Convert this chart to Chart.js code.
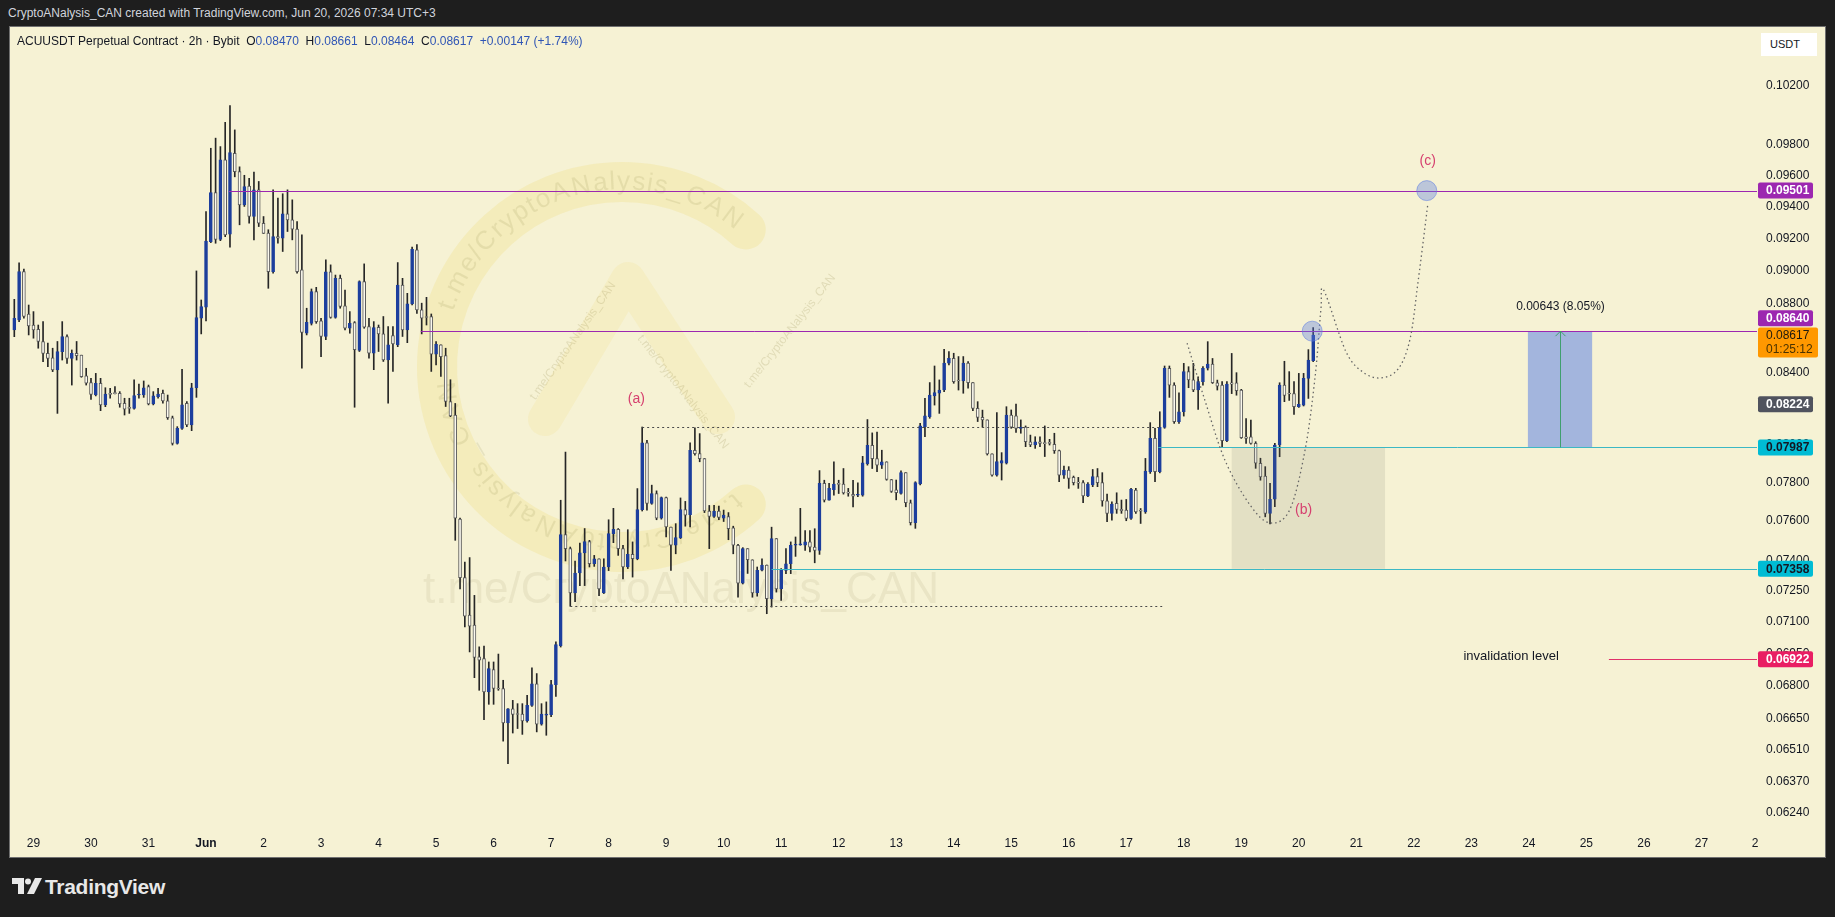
<!DOCTYPE html>
<html>
<head>
<meta charset="utf-8">
<script src="https://cdn.jsdelivr.net/npm/chart.js@4.4.1/dist/chart.umd.min.js"></script>
<style>
html, body { margin: 0; padding: 0; background: #1e1e1e; width: 1835px; height: 917px; overflow: hidden; font-family: "Liberation Sans", Arial, sans-serif; }
#credit { position: absolute; left: 8px; top: 6px; color: #d1d4dc; font-size: 12px; }
#panel { position: absolute; left: 10px; top: 27px; width: 1815px; height: 830px; background: #f6f2d4; box-shadow: 0 0 0 1px #707070; }
#panel canvas { position: absolute; left: 0; top: 0; }
#legend { position: absolute; left: 7px; top: 7px; font-size: 12px; color: #131722; white-space: pre; }
#legend span { color: #2f55b5; }
#unit { position: absolute; left: 1751px; top: 6px; width: 56px; height: 23px; background: #fff; font-size: 11px; color: #131722; line-height: 23px; padding-left: 9px; box-sizing: border-box; }
#logo { position: absolute; left: 12px; top: 875px; color: #e8e8e8; font-size: 21px; font-weight: bold; }
#logo svg { position: absolute; left: 0; top: 3px; }
#logo div { position: absolute; left: 33px; top: 0; letter-spacing: -0.3px; }
</style>
</head>
<body>
<div id="credit">CryptoANalysis_CAN created with TradingView.com, Jun 20, 2026 07:34 UTC+3</div>
<div id="panel">
  <canvas id="chart" width="1815" height="830"></canvas>
  <div id="legend">ACUUSDT Perpetual Contract · 2h · Bybit  O<span>0.08470</span>  H<span>0.08661</span>  L<span>0.08464</span>  C<span>0.08617</span>  <span>+0.00147 (+1.74%)</span></div>
  <div id="unit">USDT</div>
</div>
<div id="logo">
  <svg width="30" height="17" viewBox="0 0 30 17"><path d="M0 0H12V16H6V6H0Z" fill="#e8e8e8"/><circle cx="16" cy="3.5" r="3" fill="#e8e8e8"/><path d="M23 0H30L22 16H15Z" fill="#e8e8e8"/></svg>
  <div>TradingView</div>
</div>
<script>
// ACUUSDT 2h candles, 29 May .. 20 Jun (one row = one day, 12 bars)
const opens = [
  0.08647,0.08706,0.08995,0.08741,0.08676,0.08651,0.08580,0.08511,0.08486,0.08416,0.08521,0.08608,
  0.08483,0.08511,0.08501,0.08383,0.08345,0.08275,0.08341,0.08220,0.08284,0.08284,0.08284,0.08229,
  0.08203,0.08201,0.08275,0.08275,0.08322,0.08225,0.08266,0.08284,0.08242,0.08149,0.08009,0.08091,
  0.08229,0.08109,0.08316,0.08716,0.08781,0.09179,0.09488,0.09193,0.09700,0.09226,0.09744,0.09624,
  0.09410,0.09530,0.09336,0.09506,0.09294,0.09232,0.08994,0.09211,0.09201,0.09353,0.09315,0.09257,
  0.09006,0.08628,0.08686,0.08874,0.08700,0.08609,0.08994,0.08720,0.08954,0.08789,0.08657,0.08690,
  0.08528,0.08934,0.08667,0.08512,0.08663,0.08624,0.08474,0.08615,0.08560,0.08914,0.08647,0.08801,
  0.09128,0.08765,0.08722,0.08726,0.08506,0.08560,0.08499,0.08239,0.08163,0.07609,0.07314,0.07131,
  0.07083,0.06933,0.06925,0.06770,0.06873,0.06786,0.06786,0.06630,0.06694,0.06670,0.06670,0.06639,
  0.06709,0.06808,0.06624,0.06665,0.06667,0.06804,0.06985,0.07530,0.07459,0.07239,0.07337,0.07438,
  0.07495,0.07383,0.07408,0.07239,0.07367,0.07535,0.07557,0.07459,0.07367,0.07430,0.07408,0.07658,
  0.08012,0.07690,0.07742,0.07614,0.07721,0.07569,0.07476,0.07515,0.07658,0.07632,0.07972,0.07954,
  0.07927,0.07651,0.07623,0.07651,0.07614,0.07622,0.07565,0.07476,0.07287,0.07459,0.07403,0.07239,
  0.07351,0.07377,0.07211,0.07510,0.07259,0.07350,0.07383,0.07476,0.07478,0.07476,0.07493,0.07467,
  0.07450,0.07795,0.07707,0.07762,0.07791,0.07791,0.07745,0.07738,0.07733,0.07733,0.07900,0.07999,
  0.07927,0.07892,0.07910,0.07816,0.07761,0.07743,0.07852,0.07694,0.07591,0.07792,0.08100,0.08155,
  0.08270,0.08285,0.08303,0.08455,0.08483,0.08356,0.08354,0.08455,0.08345,0.08201,0.08151,0.08137,
  0.07952,0.07839,0.07902,0.07902,0.08164,0.08159,0.08091,0.08097,0.08018,0.08000,0.08018,0.08010,
  0.08010,0.08004,0.07970,0.07839,0.07866,0.07827,0.07799,0.07799,0.07729,0.07787,0.07831,0.07799,
  0.07704,0.07639,0.07691,0.07660,0.07656,0.07613,0.07760,0.07652,0.07647,0.07857,0.08036,0.07857,
  0.08096,0.08426,0.08331,0.08127,0.08182,0.08407,0.08360,0.08303,0.08350,0.08426,0.08450,0.08344,
  0.08331,0.08023,0.08344,0.08344,0.08303,0.08045,0.08045,0.08009,0.07902,0.07834,0.07639,0.07712,
  0.08000,0.08331,0.08283,0.08283,0.08210,0.08219,0.08369,0.08470
];
const highs = [
  0.08828,0.09049,0.09011,0.08794,0.08755,0.08676,0.08696,0.08570,0.08541,0.08580,0.08696,0.08618,
  0.08531,0.08580,0.08501,0.08426,0.08369,0.08397,0.08369,0.08316,0.08312,0.08322,0.08294,0.08257,
  0.08257,0.08360,0.08337,0.08354,0.08331,0.08294,0.08312,0.08303,0.08275,0.08158,0.08100,0.08420,
  0.08238,0.08341,0.08999,0.08824,0.09367,0.09777,0.09844,0.09788,0.09950,0.10063,0.09899,0.09655,
  0.09600,0.09580,0.09620,0.09560,0.09336,0.09253,0.09506,0.09453,0.09481,0.09506,0.09442,0.09304,
  0.09221,0.08775,0.08890,0.08900,0.08716,0.09067,0.09036,0.08974,0.08974,0.08884,0.08755,0.08696,
  0.08939,0.09042,0.08716,0.08696,0.08676,0.08726,0.08667,0.08667,0.09050,0.08954,0.08864,0.09145,
  0.09160,0.08805,0.08840,0.08741,0.08580,0.08560,0.08541,0.08361,0.08228,0.07614,0.07392,0.07414,
  0.07227,0.06980,0.06983,0.06909,0.06909,0.06946,0.06824,0.06695,0.06732,0.06717,0.06717,0.06755,
  0.06882,0.06855,0.06717,0.06725,0.06824,0.07004,0.07707,0.07962,0.07467,0.07397,0.07487,0.07561,
  0.07501,0.07425,0.07408,0.07408,0.07606,0.07665,0.07561,0.07476,0.07555,0.07493,0.07768,0.08098,
  0.08026,0.07786,0.07756,0.07724,0.07724,0.07569,0.07586,0.07719,0.07701,0.08012,0.08094,0.08062,
  0.07927,0.07680,0.07680,0.07677,0.07656,0.07643,0.07573,0.07481,0.07464,0.07459,0.07403,0.07367,
  0.07408,0.07377,0.07568,0.07510,0.07359,0.07459,0.07493,0.07518,0.07665,0.07551,0.07551,0.07560,
  0.07863,0.07812,0.07795,0.07910,0.07812,0.07874,0.07769,0.07812,0.07798,0.07939,0.08139,0.08066,
  0.08071,0.07972,0.07910,0.07816,0.07813,0.07862,0.07852,0.07708,0.07804,0.08118,0.08257,0.08345,
  0.08439,0.08360,0.08535,0.08522,0.08512,0.08493,0.08493,0.08464,0.08345,0.08238,0.08191,0.08137,
  0.07952,0.08177,0.07959,0.08210,0.08192,0.08225,0.08137,0.08104,0.08054,0.08045,0.08045,0.08104,
  0.08031,0.08064,0.07973,0.07887,0.07884,0.07834,0.07827,0.07810,0.07799,0.07869,0.07874,0.07852,
  0.07739,0.07699,0.07746,0.07708,0.07711,0.07769,0.07769,0.07664,0.07928,0.08122,0.08091,0.08182,
  0.08439,0.08439,0.08344,0.08288,0.08454,0.08435,0.08454,0.08378,0.08435,0.08579,0.08482,0.08359,
  0.08350,0.08350,0.08511,0.08401,0.08307,0.08145,0.08136,0.08018,0.07929,0.07884,0.07795,0.08009,
  0.08344,0.08466,0.08407,0.08350,0.08397,0.08397,0.08533,0.08661
];
const lows = [
  0.08608,0.08696,0.08716,0.08618,0.08599,0.08541,0.08464,0.08435,0.08407,0.08173,0.08473,0.08454,
  0.08331,0.08473,0.08375,0.08331,0.08251,0.08270,0.08188,0.08210,0.08257,0.08281,0.08207,0.08164,
  0.08173,0.08196,0.08257,0.08262,0.08220,0.08220,0.08257,0.08229,0.08140,0.08000,0.08005,0.08085,
  0.08100,0.08078,0.08262,0.08624,0.08700,0.09173,0.09169,0.09185,0.09210,0.09144,0.09590,0.09284,
  0.09400,0.09294,0.09190,0.09273,0.09230,0.08894,0.08985,0.09170,0.09118,0.09242,0.09190,0.08985,
  0.08427,0.08618,0.08676,0.08686,0.08493,0.08590,0.08716,0.08716,0.08775,0.08647,0.08628,0.08207,
  0.08522,0.08657,0.08484,0.08418,0.08522,0.08465,0.08229,0.08408,0.08550,0.08609,0.08573,0.08795,
  0.08745,0.08624,0.08676,0.08408,0.08445,0.08380,0.08211,0.08155,0.07501,0.07259,0.07075,0.06956,
  0.06836,0.06778,0.06645,0.06714,0.06714,0.06778,0.06549,0.06450,0.06585,0.06605,0.06579,0.06634,
  0.06705,0.06590,0.06620,0.06575,0.06658,0.06750,0.06979,0.07397,0.07174,0.07196,0.07275,0.07275,
  0.07367,0.07370,0.07226,0.07236,0.07349,0.07489,0.07425,0.07308,0.07359,0.07317,0.07403,0.07651,
  0.07656,0.07686,0.07606,0.07609,0.07518,0.07350,0.07433,0.07510,0.07573,0.07569,0.07945,0.07910,
  0.07643,0.07459,0.07618,0.07606,0.07597,0.07504,0.07433,0.07218,0.07283,0.07335,0.07218,0.07223,
  0.07348,0.07138,0.07170,0.07243,0.07203,0.07334,0.07334,0.07420,0.07476,0.07450,0.07442,0.07388,
  0.07430,0.07698,0.07707,0.07733,0.07742,0.07739,0.07728,0.07672,0.07725,0.07728,0.07892,0.07874,
  0.07857,0.07874,0.07812,0.07748,0.07709,0.07739,0.07673,0.07579,0.07562,0.07787,0.08045,0.08146,
  0.08219,0.08173,0.08294,0.08445,0.08341,0.08303,0.08285,0.08313,0.08188,0.08128,0.08097,0.07946,
  0.07834,0.07834,0.07813,0.07898,0.08091,0.08068,0.08064,0.07991,0.07991,0.07982,0.07991,0.07938,
  0.08000,0.07955,0.07804,0.07821,0.07769,0.07787,0.07769,0.07694,0.07726,0.07778,0.07778,0.07676,
  0.07596,0.07604,0.07639,0.07639,0.07601,0.07608,0.07639,0.07587,0.07639,0.07848,0.07804,0.07851,
  0.08091,0.08262,0.08118,0.08118,0.08158,0.08316,0.08294,0.08195,0.08331,0.08416,0.08340,0.08303,
  0.07987,0.08018,0.08283,0.08274,0.08036,0.08009,0.08005,0.07875,0.07812,0.07621,0.07584,0.07674,
  0.07937,0.08238,0.08245,0.08167,0.08206,0.08214,0.08256,0.08464
];
const closes = [
  0.08716,0.08995,0.08726,0.08670,0.08647,0.08580,0.08511,0.08483,0.08416,0.08521,0.08608,0.08483,
  0.08511,0.08498,0.08379,0.08341,0.08279,0.08341,0.08220,0.08281,0.08279,0.08283,0.08225,0.08196,
  0.08201,0.08272,0.08276,0.08316,0.08225,0.08270,0.08281,0.08242,0.08149,0.08009,0.08091,0.08220,
  0.08109,0.08316,0.08720,0.08785,0.09183,0.09488,0.09193,0.09700,0.09220,0.09749,0.09624,0.09410,
  0.09527,0.09336,0.09506,0.09294,0.09230,0.08994,0.09211,0.09201,0.09353,0.09315,0.09257,0.08994,
  0.08632,0.08692,0.08874,0.08696,0.08609,0.08994,0.08720,0.08954,0.08785,0.08657,0.08686,0.08532,
  0.08934,0.08663,0.08512,0.08661,0.08624,0.08474,0.08560,0.08566,0.08914,0.08647,0.08801,0.09132,
  0.08765,0.08716,0.08720,0.08506,0.08564,0.08493,0.08239,0.08159,0.07614,0.07314,0.07126,0.07078,
  0.06930,0.06917,0.06770,0.06878,0.06786,0.06784,0.06630,0.06694,0.06668,0.06668,0.06639,0.06709,
  0.06808,0.06624,0.06670,0.06667,0.06804,0.06991,0.07530,0.07459,0.07239,0.07337,0.07438,0.07495,
  0.07383,0.07408,0.07259,0.07367,0.07535,0.07557,0.07459,0.07367,0.07430,0.07408,0.07658,0.08012,
  0.07690,0.07742,0.07614,0.07721,0.07569,0.07476,0.07515,0.07658,0.07629,0.07972,0.07954,0.07927,
  0.07651,0.07623,0.07651,0.07618,0.07630,0.07560,0.07476,0.07287,0.07459,0.07403,0.07239,0.07351,
  0.07377,0.07211,0.07510,0.07259,0.07350,0.07383,0.07476,0.07478,0.07480,0.07493,0.07467,0.07450,
  0.07795,0.07707,0.07769,0.07791,0.07790,0.07745,0.07744,0.07728,0.07734,0.07904,0.07999,0.07927,
  0.07892,0.07910,0.07816,0.07753,0.07747,0.07852,0.07694,0.07591,0.07799,0.08104,0.08159,0.08275,
  0.08289,0.08303,0.08455,0.08483,0.08350,0.08354,0.08455,0.08345,0.08201,0.08151,0.08137,0.07952,
  0.07839,0.07911,0.07916,0.08164,0.08097,0.08091,0.08097,0.08018,0.08000,0.08018,0.08009,0.08008,
  0.08009,0.07970,0.07839,0.07866,0.07821,0.07799,0.07797,0.07729,0.07792,0.07831,0.07799,0.07704,
  0.07639,0.07687,0.07659,0.07653,0.07613,0.07764,0.07647,0.07650,0.07861,0.08036,0.07857,0.08096,
  0.08426,0.08331,0.08127,0.08182,0.08407,0.08360,0.08303,0.08350,0.08426,0.08450,0.08344,0.08325,
  0.08023,0.08336,0.08336,0.08299,0.08040,0.08036,0.08009,0.07902,0.07830,0.07639,0.07712,0.08000,
  0.08331,0.08273,0.08281,0.08210,0.08223,0.08369,0.08473,0.08617
];

// time axis: one label per day, first one (29 May) sits on bar 4, 12 bars per day
const dayLabels = ['29','30','31','Jun','2','3','4','5','6','7','8','9','10','11','12','13','14','15',
  '16','17','18','19','20','21','22','23','24','25','26','27','2'];
const firstDayBar = 4, barsPerDay = 12;
const xMin = -0.48, xMax = 363.6;

// price axis (log scale)
const priceTicks = [0.102, 0.098, 0.096, 0.094, 0.092, 0.090, 0.088, 0.086, 0.084, 0.082, 0.080, 0.078,
  0.076, 0.074, 0.0725, 0.071, 0.0695, 0.068, 0.0665, 0.0651, 0.0637, 0.0624];
const yMin = 0.061714, yMax = 0.10612;

// drawings on the chart (bar index, price)
const levelLines = [
  { price: 0.09501, from: 44.8, color: '#9c27b0' },
  { price: 0.08640, from: 84.8, color: '#9c27b0' },
  { price: 0.07987, from: 238.7, color: '#3cb8c4' },
  { price: 0.07358, from: 158.0, color: '#3cb8c4' },
  { price: 0.06922, from: 332.7, color: '#e0306a' }
];
const dottedLines = [
  { price: 0.08098, from: 131, to: 239 },
  { price: 0.07174, from: 116, to: 239.5 }
];
const zoneBox = { from: 254, to: 286, top: 0.07987, bottom: 0.07358 };
const rangeBox = { from: 315.8, to: 329.2, top: 0.08640, bottom: 0.07987, text: '0.00643 (8.05%)' };
const markers = [ { x: 294.7, price: 0.09501 }, { x: 270.8, price: 0.08640 } ];
const pathX = [244.7, 248.4, 252.6, 257.8, 262.0, 266.1, 269.3, 271.4, 272.6, 273.2, 277.8, 281.4, 285.1, 288.7, 291.2, 292.9, 294.9];
const pathP = [0.08570, 0.08246, 0.07918, 0.07683, 0.07590, 0.07657, 0.07972, 0.08377, 0.08764, 0.08883, 0.08524, 0.08404, 0.08371, 0.08421, 0.08593, 0.08937, 0.09410];
const waveLabels = [
  { text: '(a)', x: 129.8, price: 0.08252 },
  { text: '(b)', x: 269.0, price: 0.07657 },
  { text: '(c)', x: 294.9, price: 0.09690 }
];
const axisBoxes = [
  { price: 0.09501, bg: '#9c27b0', fg: '#ffffff', shift: 0 },
  { price: 0.08640, bg: '#9c27b0', fg: '#ffffff', shift: -13 },
  { price: 0.08224, bg: '#50535e', fg: '#ffffff', shift: 0 },
  { price: 0.07987, bg: '#00bcd4', fg: '#131722', shift: 0 },
  { price: 0.07358, bg: '#00bcd4', fg: '#131722', shift: 0 },
  { price: 0.06922, bg: '#e91e63', fg: '#ffffff', shift: 0 }
];
const lastPrice = 0.08617, countdown = '01:25:12';

const FONT = '"Liberation Sans", Arial, sans-serif';
const UP = '#1d3f9e', DOWN_FILL = '#fbf9ee', DOWN_LINE = '#5a5a5a';

const bodies = opens.map((o, i) => ({ x: i, y: [o, closes[i]] }));
const wicks = lows.map((l, i) => ({ x: i, y: [l, highs[i]] }));
const isUp = opens.map((o, i) => closes[i] >= o);

function arcText(ctx, text, cx, cy, r, a0, a1) {
  const widths = [...text].map(ch => ctx.measureText(ch).width);
  const total = widths.reduce((s, w) => s + w, 0);
  let acc = 0;
  [...text].forEach((ch, i) => {
    const t = (acc + widths[i] / 2) / total;
    acc += widths[i];
    const ang = (a0 + (a1 - a0) * t) * Math.PI / 180;
    ctx.save();
    ctx.translate(cx + r * Math.cos(ang), cy + r * Math.sin(ang));
    ctx.rotate(ang + Math.PI / 2);
    ctx.fillText(ch, 0, 0);
    ctx.restore();
  });
}

function smoothPath(ctx, pts) {
  ctx.moveTo(pts[0][0], pts[0][1]);
  for (let i = 0; i < pts.length - 1; i++) {
    const p0 = pts[i - 1] || pts[i], p1 = pts[i], p2 = pts[i + 1], p3 = pts[i + 2] || p2;
    ctx.bezierCurveTo(p1[0] + (p2[0] - p0[0]) / 6, p1[1] + (p2[1] - p0[1]) / 6,
      p2[0] - (p3[0] - p1[0]) / 6, p2[1] - (p3[1] - p1[1]) / 6, p2[0], p2[1]);
  }
}

// keep the plot edge-to-edge like TradingView: no label padding around the axes
function noPad(s) { s.paddingLeft = 0; s.paddingRight = 0; s.paddingTop = 0; s.paddingBottom = 0; }

const overlay = {
  id: 'overlay',
  beforeDatasetsDraw(chart) {
    const ctx = chart.ctx, a = chart.chartArea;
    ctx.save();
    ctx.beginPath(); ctx.rect(a.left, a.top, a.right - a.left, a.bottom - a.top); ctx.clip();
    // channel watermark
    const cx = 612, cy = 340, r = 185;
    ctx.strokeStyle = 'rgba(240,218,110,0.24)';
    ctx.lineWidth = 40; ctx.lineCap = 'round'; ctx.lineJoin = 'round';
    ctx.beginPath(); ctx.arc(cx, cy, r, 48 * Math.PI / 180, 312 * Math.PI / 180); ctx.stroke();
    ctx.strokeStyle = 'rgba(240,218,110,0.16)';
    ctx.lineWidth = 34;
    ctx.beginPath(); ctx.moveTo(535, 392); ctx.lineTo(618, 252); ctx.lineTo(708, 390); ctx.stroke();
    ctx.fillStyle = 'rgba(150,140,80,0.16)';
    ctx.textAlign = 'center'; ctx.textBaseline = 'middle';
    ctx.font = '26px ' + FONT;
    arcText(ctx, 't.me/CryptoANalysis_CAN', cx, cy, r, 198, 310);
    arcText(ctx, 't.me/CryptoANalysis_CAN', cx, cy, r - 10, 48, 176);
    ctx.font = '12px ' + FONT;
    ctx.fillStyle = 'rgba(150,140,80,0.22)';
    [[563, 314, -55], [673, 365, 52], [780, 304, -52]].forEach(([x, y, rot]) => {
      ctx.save(); ctx.translate(x, y); ctx.rotate(rot * Math.PI / 180);
      ctx.fillText('t.me/CryptoANalysis_CAN', 0, 0); ctx.restore();
    });
    ctx.textAlign = 'left'; ctx.textBaseline = 'alphabetic';
    ctx.font = '44px ' + FONT;
    ctx.fillStyle = 'rgba(140,130,80,0.11)';
    ctx.fillText('t.me/CryptoANalysis_CAN', 413, 576);
    ctx.restore();
  },
  afterDatasetsDraw(chart) {
    const ctx = chart.ctx, a = chart.chartArea;
    const X = v => chart.scales.x.getPixelForValue(v);
    const Y = v => chart.scales.y.getPixelForValue(v);
    ctx.save();
    ctx.beginPath(); ctx.rect(a.left, a.top, a.right - a.left, a.bottom - a.top); ctx.clip();

    ctx.fillStyle = 'rgba(120,120,110,0.15)';
    ctx.fillRect(X(zoneBox.from), Y(zoneBox.top), X(zoneBox.to) - X(zoneBox.from), Y(zoneBox.bottom) - Y(zoneBox.top));
    ctx.fillStyle = 'rgba(66,110,230,0.46)';
    ctx.fillRect(X(rangeBox.from), Y(rangeBox.top), X(rangeBox.to) - X(rangeBox.from), Y(rangeBox.bottom) - Y(rangeBox.top));

    ctx.lineWidth = 1;
    levelLines.forEach(l => {
      const y = Math.round(Y(l.price)) + 0.5;
      ctx.strokeStyle = l.color;
      ctx.beginPath(); ctx.moveTo(X(l.from), y); ctx.lineTo(a.right, y); ctx.stroke();
    });

    ctx.strokeStyle = '#4a4a4a'; ctx.setLineDash([2, 3]);
    dottedLines.forEach(l => {
      const y = Math.round(Y(l.price)) + 0.5;
      ctx.beginPath(); ctx.moveTo(X(l.from), y); ctx.lineTo(X(l.to), y); ctx.stroke();
    });

    ctx.strokeStyle = '#666'; ctx.lineWidth = 1.3; ctx.setLineDash([1.5, 3]);
    ctx.beginPath(); smoothPath(ctx, pathX.map((x, i) => [X(x), Y(pathP[i])])); ctx.stroke();
    ctx.setLineDash([]);

    // arrow inside the range box
    const ax = Math.round(X((rangeBox.from + rangeBox.to) / 2)) + 0.5, top = Y(rangeBox.top);
    ctx.strokeStyle = '#3f9f6e'; ctx.lineWidth = 1;
    ctx.beginPath(); ctx.moveTo(ax, Y(rangeBox.bottom)); ctx.lineTo(ax, top);
    ctx.moveTo(ax - 5, top + 5); ctx.lineTo(ax, top); ctx.lineTo(ax + 5, top + 5); ctx.stroke();
    ctx.fillStyle = '#131722'; ctx.font = '12px ' + FONT;
    ctx.textAlign = 'center'; ctx.textBaseline = 'middle';
    ctx.fillText(rangeBox.text, ax, top - 24);

    markers.forEach(m => {
      ctx.beginPath(); ctx.arc(X(m.x), Y(m.price), 10, 0, Math.PI * 2);
      ctx.fillStyle = 'rgba(95,125,225,0.38)'; ctx.fill();
      ctx.strokeStyle = 'rgba(95,125,225,0.55)'; ctx.stroke();
    });

    ctx.font = '14px ' + FONT; ctx.fillStyle = '#d6406f';
    waveLabels.forEach(w => ctx.fillText(w.text, X(w.x), Y(w.price)));

    ctx.fillStyle = '#131722'; ctx.font = '13px ' + FONT;
    ctx.fillText('invalidation level', X(312.3), Y(0.06922) - 3);
    ctx.restore();
  },
  afterDraw(chart) {
    const ctx = chart.ctx, a = chart.chartArea;
    const Y = v => chart.scales.y.getPixelForValue(v);
    const bx = a.right + 1;
    ctx.save();
    ctx.textBaseline = 'middle'; ctx.textAlign = 'left';
    ctx.font = 'bold 12px ' + FONT;
    axisBoxes.forEach(b => {
      const y = Y(b.price) + b.shift;
      ctx.fillStyle = b.bg;
      ctx.beginPath(); ctx.roundRect(bx, y - 8, 55, 16, 2); ctx.fill();
      ctx.fillStyle = b.fg;
      ctx.fillText(b.price.toFixed(5), bx + 8, y + 0.5);
    });
    const y = Y(lastPrice);
    ctx.fillStyle = '#ff9800';
    ctx.beginPath(); ctx.roundRect(bx, y - 7.5, 60, 30, 2); ctx.fill();
    ctx.fillStyle = '#1e1a10';
    ctx.font = '12px ' + FONT;
    ctx.fillText(lastPrice.toFixed(5), bx + 8, y + 0.5);
    ctx.fillStyle = '#4a3300';
    ctx.fillText(countdown, bx + 8, y + 14.5);
    ctx.restore();
  }
};

new Chart(document.getElementById('chart'), {
  type: 'bar',
  data: {
    datasets: [
      {
        label: 'body', data: bodies, order: 0, grouped: false,
        barThickness: 3, minBarLength: 1, borderWidth: 1, borderSkipped: false,
        backgroundColor: isUp.map(u => u ? UP : DOWN_FILL),
        borderColor: isUp.map(u => u ? UP : DOWN_LINE)
      },
      {
        label: 'wick', data: wicks, order: 1, grouped: false,
        barThickness: 1, backgroundColor: '#262626', borderWidth: 0
      }
    ]
  },
  options: {
    responsive: false,
    animation: false,
    devicePixelRatio: 1,
    events: [],
    layout: { padding: { left: 2, top: 0, right: 0, bottom: 0 } },
    plugins: { legend: { display: false }, tooltip: { enabled: false } },
    scales: {
      x: {
        type: 'linear', min: xMin, max: xMax, offset: false,
        grid: { display: false, drawTicks: false }, border: { display: false },
        afterFit(s) { s.height = 28; noPad(s); },
        afterBuildTicks(s) {
          s.ticks = dayLabels.map((_, k) => ({ value: Math.min(firstDayBar + k * barsPerDay, xMax - 0.4) }));
        },
        ticks: {
          autoSkip: false, maxRotation: 0, padding: 7, color: '#131722',
          font: c => ({ family: FONT, size: 12, weight: c.index === 3 ? 'bold' : 'normal' }),
          callback: (v, i) => dayLabels[i]
        }
      },
      y: {
        type: 'logarithmic', position: 'right', min: yMin, max: yMax, offset: false,
        grid: { display: false, drawTicks: false }, border: { display: false },
        afterFit(s) { s.width = 68; noPad(s); },
        afterBuildTicks(s) { s.ticks = priceTicks.map(v => ({ value: v })); },
        ticks: {
          autoSkip: false, padding: 9, color: '#131722',
          font: { family: FONT, size: 12 },
          callback: v => Number(v).toFixed(5)
        }
      }
    }
  },
  plugins: [overlay]
});
</script>
</body>
</html>
